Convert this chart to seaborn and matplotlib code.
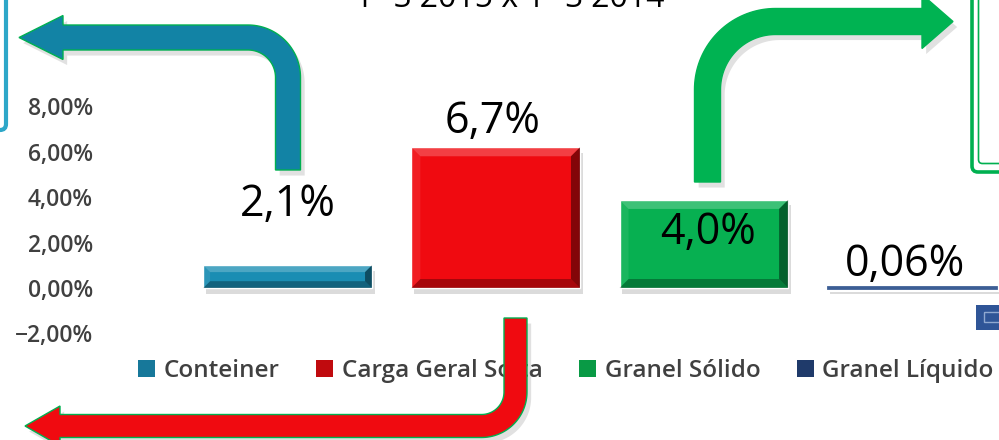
import numpy as np
import matplotlib
matplotlib.use("Agg")
import matplotlib.pyplot as plt
import matplotlib.patheffects as pe
from matplotlib.patches import Polygon, FancyBboxPatch, Rectangle, Patch
import seaborn as sns
import pandas as pd

# ---------------- data ----------------
categories = ["Conteiner", "Carga Geral Solta", "Granel Sólido", "Granel Líquido"]
bar_values = [1.0, 6.2, 3.88, 0.06]          # bar heights as drawn (%)
value_labels = ["2,1%", "6,7%", "4,0%", "0,06%"]
y_ticks = [-2, 0, 2, 4, 6, 8]
title_text = "1º S 2015 x 1º S 2014"

# ---------------- style ----------------
bar_colors = ["#1A8DB3", "#F00A10", "#07B051", "#4A6FA5"]
legend_colors = ["#17789A", "#C00A0E", "#099A45", "#1F3A6A"]
label_dx = [0.0, -0.015, 0.02, -0.035]
label_y = [3.66, 7.31, 2.45, 1.01]

sns.set_theme(style="white")
plt.rcParams['font.family'] = ['Open Sans', 'DejaVu Sans']

W, H = 999, 440
fig = plt.figure(figsize=(W / 100, H / 100), dpi=100)

x_left_px, x_right_px = 183.5, 1016.0
y0_px, ppu = 288.0, 22.7
ylo, yhi = -2.2, 8.3
bot_px = y0_px - ppu * ylo
top_px = y0_px - ppu * yhi
ax = fig.add_axes([x_left_px / W, 1 - bot_px / H,
                   (x_right_px - x_left_px) / W, (bot_px - top_px) / H])
ax.patch.set_alpha(0)

df = pd.DataFrame({"cat": categories, "val": bar_values})
sns.barplot(data=df, x="cat", y="val", hue="cat", palette=bar_colors,
            width=0.81, saturation=1, legend=False, ax=ax, zorder=2)
ax.set_xlim(-0.5, 3.5)
ax.set_ylim(ylo, yhi)
ax.set_yticks(y_ticks)
ax.set_yticklabels([f"{v:.2f}".replace('.', ',').replace('-', '−') + '%' for v in y_ticks])
ax.tick_params(axis='y', length=0, pad=65, labelsize=16.5, labelcolor='#404040')
for t in ax.get_yticklabels():
    t.set_fontweight('semibold')
ax.set_xticks([])
ax.set_xlabel('')
ax.set_ylabel('')
for s in ax.spines.values():
    s.set_visible(False)

# bevel effect
pxx = ax.transData.transform((1, 0))[0] - ax.transData.transform((0, 0))[0]
pxy = ax.transData.transform((0, 1))[1] - ax.transData.transform((0, 0))[1]
for p in list(ax.patches):
    x0, y0 = p.get_x(), p.get_y()
    w, h = p.get_width(), p.get_height()
    h_px = abs(h) * pxy
    p.set_path_effects([pe.SimplePatchShadow(offset=(2, -4), shadow_rgbFace='#888888', alpha=0.3),
                        pe.Normal()])
    if h_px < 5:
        p.set_edgecolor('#3C5E95')
        p.set_linewidth(2)
        continue
    b = min(9.0, 0.3 * h_px)
    bx, by = b / pxx, b / pxy
    x1, y1 = x0 + w, y0 + h
    parts = [
        ([(x0, y1), (x1, y1), (x1 - bx, y1 - by), (x0 + bx, y1 - by)], 'white', 0.22),
        ([(x0, y0), (x1, y0), (x1 - bx, y0 + by), (x0 + bx, y0 + by)], 'black', 0.30),
        ([(x0, y0), (x0, y1), (x0 + bx, y1 - by), (x0 + bx, y0 + by)], 'white', 0.08),
        ([(x1, y0), (x1, y1), (x1 - bx, y1 - by), (x1 - bx, y0 + by)], 'black', 0.45),
    ]
    for pts, c, a in parts:
        ax.add_patch(Polygon(pts, closed=True, facecolor=c, alpha=a, edgecolor='none', zorder=3))

# value labels
for i, lab in enumerate(value_labels):
    ax.text(i + label_dx[i], label_y[i], lab, ha='center', va='center',
            fontsize=31, color='black', zorder=6)

# legend
handles = [Patch(facecolor=c, edgecolor='none') for c in legend_colors]
leg = ax.legend(handles=handles, labels=categories, loc='center',
                bbox_to_anchor=(566 / W, 1 - 371 / H), bbox_transform=fig.transFigure,
                ncol=4, frameon=False, fontsize=17.5, handlelength=0.7, handleheight=0.7,
                handletextpad=0.35, columnspacing=1.5, labelcolor='#404040')
for t in leg.get_texts():
    t.set_fontweight('semibold')

# ---------------- decorations (pixel overlay) ----------------
ov = fig.add_axes([0, 0, 1, 1], zorder=5)
ov.set_xlim(0, W)
ov.set_ylim(H, 0)
ov.axis('off')
ov.patch.set_alpha(0)


def bent_arrow(start, corner, end, r, w, head_len, hh, n=40):
    start, corner, end = (np.asarray(v, float) for v in (start, corner, end))
    d1 = (corner - start) / np.linalg.norm(corner - start)
    d2 = (end - corner) / np.linalg.norm(end - corner)
    a = corner - d1 * r
    c = a + d2 * r
    u = (a - c) / r
    v = d1
    th = np.linspace(0, np.pi / 2, n)
    arc = c[None, :] + r * (np.cos(th)[:, None] * u[None, :] + np.sin(th)[:, None] * v[None, :])
    P = np.vstack([start, arc, end])
    T = np.gradient(P, axis=0)
    T /= np.linalg.norm(T, axis=1)[:, None]
    N = np.stack([-T[:, 1], T[:, 0]], axis=1)
    left = P + w * N
    right = P - w * N
    e, ne, te = P[-1], N[-1], T[-1]
    head = [e + hh * ne, e + head_len * te, e - hh * ne]
    return np.vstack([left, head, right[::-1]])


shadow = [pe.SimplePatchShadow(offset=(3, -4), shadow_rgbFace='#777777', alpha=0.22), pe.Normal()]
arrows = [
    (bent_arrow((288, 170), (288, 37.5), (63, 37.5), 40, 12.5, 44, 22), '#1283A5', '#00B050'),
    (bent_arrow((707.5, 182), (707.5, 21.5), (922, 21.5), 68, 13, 31, 27), '#00B352', '#00B352'),
    (bent_arrow((515.5, 318), (515.5, 426), (60, 426), 34, 11.5, 35, 20), '#F00A10', '#00B050'),
]
for pts, fc, ec in arrows:
    poly = Polygon(pts, closed=True, facecolor=fc, edgecolor=ec, linewidth=1.0, zorder=4)
    poly.set_path_effects(shadow)
    ov.add_patch(poly)

# boxes at the edges
ov.add_patch(FancyBboxPatch((972, -20), 60, 192, boxstyle="round,pad=0,rounding_size=6",
                            facecolor='none', edgecolor='#00B050', linewidth=2.6, zorder=3))
ov.add_patch(FancyBboxPatch((978.5, -20), 60, 183.5, boxstyle="round,pad=0,rounding_size=4",
                            facecolor='none', edgecolor='#00B050', linewidth=1.2, zorder=3))
ov.add_patch(FancyBboxPatch((-60, -20), 66, 150, boxstyle="round,pad=0,rounding_size=6",
                            facecolor='none', edgecolor='#2EA7C8', linewidth=3, zorder=3))
ov.add_patch(Rectangle((976, 305), 30, 25, facecolor='#2F5597', edgecolor='none', zorder=3))
ov.add_patch(Rectangle((984, 312), 20, 10, facecolor='none', edgecolor='#8FA8D0', linewidth=1, zorder=3))

ov.text(510, 7, title_text, ha='center', va='baseline', fontsize=23, color='black')

fig.savefig("out.png", dpi=100)
